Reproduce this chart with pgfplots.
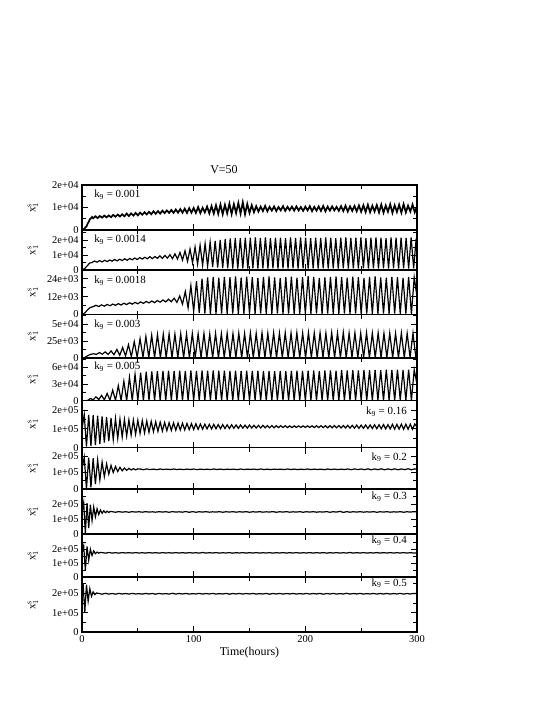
\documentclass[border=0pt]{standalone}
\usepackage{fontspec}
\setmainfont{Liberation Serif}
\usepackage{pgfplots}
\pgfplotsset{compat=1.18}

\pgfplotsset{
  panel/.style={
    scale only axis, width=335bp, xmin=0, xmax=300, ymin=0,
    scaled y ticks=false, scaled x ticks=false,
    xtick={0,100,200,300}, minor xtick={50,150,250}, xticklabels={},
    tick align=inside, major tick length=6bp, minor tick length=4bp,
    axis line style={line width=1.1bp},
    every tick/.style={black, line width=0.9bp},
    tick label style={font=\fontsize{10.5}{11}\selectfont},
    ylabel={\(\mathrm{x}_{1}^{\mathrm{s}}\)},
    every axis y label/.style={at={(axis description cs:0,0.5)}, xshift=-49bp,
      rotate=90, anchor=center, font=\fontsize{11}{12}\selectfont},
    anchor=south west,
  },
}
\tikzset{
  kl/.style={font=\fontsize{11}{12}\selectfont, inner sep=1pt},
  sig/.style={black, line width=1.2bp},
}

\begin{document}
\begin{tikzpicture}
\useasboundingbox (0,0) rectangle (545bp,-705bp);
\node[font=\fontsize{12}{14}\selectfont] at (224bp,-170bp) {V=50};

% k9 = 0.001
\begin{axis}[panel, at={(82bp,-230bp)}, height=45bp, ymax=20000,
  ytick={0,10000,20000}, yticklabels={0,1e+04,2e+04}, minor ytick={5000,15000}]
\addplot[sig, line width=1.7bp] coordinates {
(0,0)(1,400)(2,300)(3,1200)(4,1500)(5,2800)(6,3600)(7,4800)(8,5200)(9,5800)(10,5200)
(12,6100)(14,5300)(16,6200)(18,5500)(20,6400)(22,5600)(24,6500)(26,5700)(28,6700)(30,5900)
(32,6900)(34,6000)(36,7000)(38,6100)(40,7300)(42,6200)(44,7400)(46,6400)(48,7600)(50,6500)
(52,7700)(54,6800)(56,7900)(58,6900)(60,8100)(62,7000)(64,8300)(66,7200)(68,8400)(70,7300)
(72,8600)(74,7500)(76,8700)(78,7600)(80,8900)(82,7600)(84,9100)(86,7700)(88,9300)(90,7700)
(92,9500)(94,7600)(96,9700)(98,7700)(100,9800)(102,7600)(104,10200)(106,7500)(108,9900)(110,7800)
(112,10400)(114,7400)(116,10600)(118,7300)(120,11000)(122,7200)(124,11300)(126,7000)(128,11200)(130,7400)
(132,11700)(134,7100)(136,11500)(138,7500)(140,12000)(142,7300)(144,12300)(146,7000)(148,11600)(150,7600)
(152,11000)(154,7900)(156,10600)(158,8200)(160,10400)(162,8400)(164,10700)(166,8300)(168,10300)(170,8600)
(172,10500)(174,8400)(176,10200)(178,8700)(180,10600)(182,8500)(184,10300)(186,8800)(188,10400)(190,8600)
(192,10500)(194,8700)(196,10200)(198,8500)(200,10400)(202,8700)(204,10600)(206,8400)(208,10300)(210,8600)
(212,10500)(214,8500)(216,10700)(218,8300)(220,10400)(222,8600)(224,10500)(226,8700)(228,10300)(230,8500)
(232,10600)(234,8400)(236,10800)(238,8200)(240,10500)(242,8500)(244,10700)(246,8300)(248,10900)(250,8100)
(252,11000)(254,8000)(256,11200)(258,7900)(260,10800)(262,8200)(264,11100)(266,7800)(268,11300)(270,7700)
(272,10900)(274,8100)(276,11400)(278,7600)(280,11000)(282,8000)(284,11200)(286,7700)(288,11500)(290,7800)
(292,10800)(294,8200)(296,11300)(298,7900)(300,10600)
};
\node[kl, anchor=west] at (rel axis cs:0.033,0.78) {k\textsubscript{9} = 0.001};
\end{axis}

% k9 = 0.0014
\begin{axis}[panel, at={(82bp,-270bp)}, height=40bp, ymax=26700,
  ytick={0,10000,20000}, yticklabels={0,1e+04,2e+04}, minor ytick={5000,15000,25000}]
\addplot[sig] coordinates {
(0,0)(2.25,900)(4.5,2600)(6.75,4600)(9,5000)(11.25,6000)(13.5,5200)(15.75,6300)(18,5400)(20.25,6500)
(22.5,5600)(24.75,6700)(27,5900)(29.25,7000)(31.5,6100)(33.75,7200)(36,6300)(38.25,7500)(40.5,6500)(42.75,7700)
(45,6800)(47.25,8000)(49.5,7000)(51.75,8300)(54,7300)(56.25,8500)(58.5,7500)(60.75,8900)(63,7600)(65.25,9000)
(67.5,7800)(69.75,9400)(72,7800)(74.25,9700)(76.5,7900)(78.75,10200)(81,7600)(83.25,10800)(85.5,7300)(87.75,11700)
(90,6600)(92.25,12800)(94.5,5800)(96.75,14000)(99,4800)(101.25,15300)(103.5,3900)(105.75,16500)(108,3100)(110.25,17600)
(112.5,2500)(114.75,18600)(117,2000)(119.25,19400)(121.5,1600)(123.75,20100)(126,1300)(128.25,20700)(130.5,1100)(132.75,21100)
(135,1000)(137.25,21400)(139.5,1000)(141.75,21300)(144,1100)(146.25,21600)(148.5,1000)(150.75,21500)(153,1100)(155.25,21700)
(157.5,1000)(159.75,21400)(162,1200)(164.25,21800)(166.5,1000)(168.75,21300)(171,1100)(173.25,21600)(175.5,900)(177.75,21500)
(180,1100)(182.25,21200)(184.5,1000)(186.75,21700)(189,1100)(191.25,21400)(193.5,1000)(195.75,21800)(198,1200)(200.25,21500)
(202.5,1000)(204.75,21300)(207,1100)(209.25,21600)(211.5,1000)(213.75,21400)(216,1100)(218.25,21700)(220.5,900)(222.75,21500)
(225,1100)(227.25,21200)(229.5,1000)(231.75,21600)(234,1100)(236.25,21800)(238.5,1000)(240.75,21400)(243,1100)(245.25,21500)
(247.5,1000)(249.75,21700)(252,1200)(254.25,21300)(256.5,1000)(258.75,21600)(261,1100)(263.25,21800)(265.5,1000)(267.75,21500)
(270,1100)(272.25,21300)(274.5,1000)(276.75,21700)(279,1100)(281.25,21500)(283.5,900)(285.75,21600)(288,1100)(290.25,21400)
(292.5,1000)(294.75,21700)(297,1100)(299.25,21000)(300,15000)
};
\node[kl, anchor=west] at (rel axis cs:0.033,0.75) {k\textsubscript{9} = 0.0014};
\end{axis}

% k9 = 0.0018
\begin{axis}[panel, at={(82bp,-314.5bp)}, height=44.5bp, ymax=30000,
  ytick={0,12000,24000}, yticklabels={0,12e+03,24e+03}, minor ytick={6000,18000}]
\addplot[sig] coordinates {
(0,0)(2.5,1000)(5,3200)(7.5,4800)(10,5300)(12.5,6200)(15,5400)(17.5,6500)(20,5600)(22.5,6800)
(25,5900)(27.5,7000)(30,6200)(32.5,7300)(35,6400)(37.5,7600)(40,6700)(42.5,7900)(45,7000)(47.5,8200)
(50,7200)(52.5,8500)(55,7500)(57.5,8800)(60,7800)(62.5,9100)(65,8000)(67.5,9400)(70,8300)(72.5,9800)
(75,8500)(77.5,10300)(80,8600)(82.5,11000)(85,8200)(87.5,12500)(90,7000)(92.5,15500)(95,4500)(97.5,19500)
(100,2200)(102.5,22500)(105,1000)(107.5,24200)(110,600)(112.5,25000)(115,500)(117.5,25300)(120,500)(122.5,24800)
(125,600)(127.5,25400)(130,500)(132.5,25100)(135,600)(137.5,25600)(140,500)(142.5,24900)(145,500)(147.5,25500)
(150,600)(152.5,25200)(155,500)(157.5,24700)(160,600)(162.5,25300)(165,500)(167.5,25700)(170,500)(172.5,25000)
(175,600)(177.5,24600)(180,500)(182.5,25200)(185,600)(187.5,25500)(190,500)(192.5,24800)(195,500)(197.5,25100)
(200,600)(202.5,25800)(205,500)(207.5,25300)(210,600)(212.5,24700)(215,500)(217.5,25000)(220,600)(222.5,25400)
(225,500)(227.5,25600)(230,500)(232.5,25200)(235,600)(237.5,24900)(240,500)(242.5,25500)(245,600)(247.5,25100)
(250,500)(252.5,24600)(255,600)(257.5,25300)(260,500)(262.5,25700)(265,500)(267.5,25000)(270,600)(272.5,24800)
(275,500)(277.5,25400)(280,600)(282.5,25100)(285,500)(287.5,24700)(290,600)(292.5,25300)(295,500)(297.5,25000)
(300,12000)
};
\node[kl, anchor=west] at (rel axis cs:0.033,0.76) {k\textsubscript{9} = 0.0018};
\end{axis}

% k9 = 0.003
\begin{axis}[panel, at={(82bp,-358bp)}, height=43.5bp, ymax=64000,
  ytick={0,25000,50000}, yticklabels={0,25e+03,5e+04}, minor ytick={12500,37500,62500}]
\addplot[sig] coordinates {
(0,0)(2.6,800)(5.2,3500)(7.8,5500)(10.4,6200)(13,5400)(15.6,8000)(18.2,5600)(20.8,9000)(23.4,5200)
(26,10500)(28.6,4800)(31.2,12500)(33.8,4000)(36.4,15500)(39,3000)(41.6,19500)(44.2,2000)(46.8,24000)(49.4,1200)
(52,28500)(54.6,800)(57.2,31500)(59.8,600)(62.4,33500)(65,500)(67.6,34500)(70.2,500)(72.8,35000)(75.4,500)
(78,35500)(80.6,500)(83.2,35200)(85.8,600)(88.4,35800)(91,500)(93.6,35400)(96.2,500)(98.8,36000)(101.4,600)
(104,35500)(106.6,500)(109.2,35900)(111.8,600)(114.4,35300)(117,500)(119.6,36200)(122.2,500)(124.8,35700)(127.4,600)
(130,36400)(132.6,500)(135.2,35800)(137.8,600)(140.4,36600)(143,500)(145.6,36100)(148.2,500)(150.8,36800)(153.4,600)
(156,36300)(158.6,500)(161.2,36900)(163.8,600)(166.4,36400)(169,500)(171.6,37000)(174.2,500)(176.8,36500)(179.4,600)
(182,37200)(184.6,500)(187.2,36600)(189.8,600)(192.4,37100)(195,500)(197.6,36700)(200.2,500)(202.8,37300)(205.4,600)
(208,36800)(210.6,500)(213.2,37000)(215.8,600)(218.4,36500)(221,500)(223.6,37200)(226.2,500)(228.8,36700)(231.4,600)
(234,37400)(236.6,500)(239.2,36600)(241.8,600)(244.4,37100)(247,500)(249.6,36500)(252.2,600)(254.8,37000)(257.4,500)
(260,36400)(262.6,600)(265.2,36900)(267.8,500)(270.4,36300)(273,600)(275.6,36800)(278.2,500)(280.8,36200)(283.4,600)
(286,36700)(288.6,500)(291.2,36100)(293.8,600)(296.4,36500)(299,500)(300,3000)
};
\node[kl, anchor=west] at (rel axis cs:0.033,0.76) {k\textsubscript{9} = 0.003};
\end{axis}

% k9 = 0.005
\begin{axis}[panel, at={(82bp,-400.7bp)}, height=42.7bp, ymax=76700,
  ytick={0,30000,60000}, yticklabels={0,3e+04,6e+04}, minor ytick={15000,45000,75000}]
\addplot[sig] coordinates {
(0,0)(2.5,0)(5,300)(7.5,4000)(10,1500)(12.5,7000)(15,2000)(17.5,9500)(20,1800)(22.5,13000)
(25,1200)(27.5,19000)(30,800)(32.5,27000)(35,600)(37.5,35000)(40,500)(42.5,42000)(45,500)(47.5,47500)
(50,500)(52.5,50500)(55,500)(57.5,52000)(60,600)(62.5,52800)(65,500)(67.5,53200)(70,500)(72.5,53500)
(75,600)(77.5,53800)(80,500)(82.5,53400)(85,600)(87.5,54000)(90,500)(92.5,53600)(95,600)(97.5,54200)
(100,500)(102.5,53700)(105,600)(107.5,54300)(110,500)(112.5,53900)(115,600)(117.5,54400)(120,500)(122.5,53800)
(125,600)(127.5,54100)(130,500)(132.5,53600)(135,600)(137.5,54000)(140,500)(142.5,53500)(145,600)(147.5,53900)
(150,500)(152.5,53400)(155,600)(157.5,53800)(160,500)(162.5,53300)(165,600)(167.5,53700)(170,500)(172.5,53200)
(175,600)(177.5,53600)(180,500)(182.5,53100)(185,600)(187.5,53500)(190,500)(192.5,53900)(195,600)(197.5,53400)
(200,500)(202.5,53800)(205,600)(207.5,54200)(210,500)(212.5,53700)(215,600)(217.5,54300)(220,500)(222.5,54600)
(225,600)(227.5,54100)(230,500)(232.5,54800)(235,600)(237.5,54400)(240,500)(242.5,55000)(245,600)(247.5,54600)
(250,500)(252.5,55200)(255,600)(257.5,54800)(260,500)(262.5,55400)(265,600)(267.5,55000)(270,500)(272.5,55600)
(275,600)(277.5,55100)(280,500)(282.5,55700)(285,600)(287.5,55300)(290,500)(292.5,55800)(295,600)(297.5,55400)
(300,30000)
};
\node[kl, anchor=west] at (rel axis cs:0.033,0.8) {k\textsubscript{9} = 0.005};
\end{axis}

% k9 = 0.16
\begin{axis}[panel, at={(82bp,-447.7bp)}, height=47bp, ymax=250000,
  ytick={0,100000,200000}, yticklabels={0,1e+05,2e+05}, minor ytick={50000,150000}]
\addplot[sig] coordinates {
(0,100000)(2,176000)(4,6000)(6,175000)(8,9000)(10,173000)(12,14000)(14,170000)(16,20000)(18,166000)
(20,27000)(22,162000)(24,35000)(26,158000)(28,43000)(30,155000)(32,50000)(34,152000)(36,56000)(38,150000)
(40,62000)(42,148000)(44,67000)(46,147000)(48,72000)(50,146000)(52,76000)(54,144000)(56,79000)(58,142000)
(60,82000)(62,140000)(64,85000)(66,138000)(68,87000)(70,136000)(72,89000)(74,134000)(76,91000)(78,133000)
(80,92000)(82,132000)(84,93000)(86,131000)(88,94000)(90,130000)(92,95000)(94,129000)(96,96000)(98,128000)
(100,97000)(102,127000)(104,98000)(106,126000)(108,99000)(110,125000)(112,100000)(114,124000)(116,100000)(118,124000)
(120,101000)(122,123000)(124,101000)(126,123000)(128,102000)(130,122000)(132,102000)(134,122000)(136,103000)(138,121000)
(140,103000)(142,121000)(144,104000)(146,120000)(148,104000)(150,120000)(152,105000)(154,119000)(156,105000)(158,119000)
(160,105000)(162,119000)(164,106000)(166,118000)(168,106000)(170,118000)(172,106000)(174,117000)(176,107000)(178,117000)
(180,107000)(182,117000)(184,107000)(186,116000)(188,107000)(190,116000)(192,108000)(194,116000)(196,108000)(198,116000)
(200,108000)(202,116000)(204,108000)(206,116000)(208,107000)(210,117000)(212,107000)(214,117000)(216,107000)(218,117000)
(220,106000)(222,117000)(224,106000)(226,118000)(228,106000)(230,118000)(232,105000)(234,118000)(236,105000)(238,119000)
(240,104000)(242,119000)(244,104000)(246,120000)(248,103000)(250,120000)(252,103000)(254,121000)(256,102000)(258,121000)
(260,102000)(262,122000)(264,101000)(266,122000)(268,101000)(270,123000)(272,100000)(274,123000)(276,100000)(278,124000)
(280,99000)(282,124000)(284,99000)(286,125000)(288,98000)(290,125000)(292,98000)(294,125000)(296,98000)(298,126000)
(300,110000)
};
\node[kl, anchor=east] at (rel axis cs:0.973,0.77) {k\textsubscript{9} = 0.16};
\end{axis}

% k9 = 0.2
\begin{axis}[panel, at={(82bp,-489bp)}, height=41.3bp, ymax=250000,
  ytick={0,100000,200000}, yticklabels={0,1e+05,2e+05}, minor ytick={50000,150000}]
\addplot[sig] coordinates {
(0,120000)(2,192000)(4,2000)(6,190000)(8,10000)(10,186000)(12,30000)(14,175000)(16,55000)(18,163000)
(20,75000)(22,152000)(24,90000)(26,143000)(28,100000)(30,136000)(32,106000)(34,131000)(36,110000)(38,127000)
(40,113000)(42,125000)(44,115000)(46,123000)(48,116000)(50,122000)
(52,121000)(55,117000)(58,121500)(61,117500)(64,120500)(67,117000)(70,121000)(73,118000)(76,120500)(79,117500)
(82,121000)(85,118000)(88,120000)(91,117500)(94,120500)(97,118000)(100,121000)(103,117000)(106,120500)(109,118000)
(112,120000)(115,117500)(118,121000)(121,118000)(124,120500)(127,117500)(130,120000)(133,118500)(136,120500)(139,117000)
(142,121000)(145,118000)(148,120000)(151,118500)(154,120500)(157,117500)(160,121000)(163,118000)(166,120000)(169,117500)
(172,120500)(175,118500)(178,120000)(181,117500)(184,121000)(187,118000)(190,120500)(193,117500)(196,120000)(199,118000)
(202,121000)(205,117500)(208,120500)(211,118000)(214,120000)(217,117000)(220,121000)(223,118000)(226,120500)(229,117500)
(232,120500)(235,118000)(238,121000)(241,117000)(244,121500)(247,117500)(250,121000)(253,117000)(256,122000)(259,116500)
(262,121500)(265,117000)(268,122000)(271,116500)(274,121500)(277,117000)(280,122000)(283,116500)(286,121500)(289,117000)
(292,122500)(295,116500)(298,122000)(300,119000)
};
\node[kl, anchor=east] at (rel axis cs:0.973,0.77) {k\textsubscript{9} = 0.2};
\end{axis}

% k9 = 0.3
\begin{axis}[panel, at={(82bp,-534bp)}, height=45bp, ymax=300000,
  ytick={0,100000,200000}, yticklabels={0,1e+05,2e+05}, minor ytick={50000,150000,250000}]
\addplot[sig] coordinates {
(0,150000)(1.5,210000)(3,5000)(4.5,205000)(6,40000)(7.5,195000)(9,90000)(10.5,180000)(12,115000)(13.5,168000)
(15,130000)(16.5,160000)(18,138000)(19.5,155000)(21,142000)(22.5,152000)(24,144000)(25.5,150000)
(27,149000)(30,145000)(33,149500)(36,145500)(39,148500)(42,145000)(45,149000)(48,146000)(51,148500)(54,145500)
(57,149000)(60,146000)(63,148000)(66,145500)(69,149000)(72,146000)(75,148500)(78,145000)(81,149500)(84,146000)
(87,148000)(90,145500)(93,150000)(96,144500)(99,149500)(102,145000)(105,148500)(108,146000)(111,149000)(114,145500)
(117,148000)(120,146000)(123,149000)(126,145000)(129,148500)(132,146000)(135,149000)(138,145500)(141,148500)(144,146000)
(147,149000)(150,145000)(153,148500)(156,146000)(159,149000)(162,145500)(165,148000)(168,146000)(171,149500)(174,145000)
(177,148500)(180,146000)(183,149000)(186,145500)(189,148000)(192,146000)(195,149000)(198,145000)(201,148500)(204,146000)
(207,149000)(210,145500)(213,148000)(216,146000)(219,149500)(222,145000)(225,148500)(228,146000)(231,151000)(234,144000)
(237,149000)(240,145500)(243,148500)(246,146000)(249,149000)(252,145500)(255,148000)(258,146000)(261,149000)(264,145000)
(267,148500)(270,146000)(273,149000)(276,145500)(279,148000)(282,146000)(285,149000)(288,145000)(291,148500)(294,146000)
(297,149000)(300,147000)
};
\node[kl, anchor=east] at (rel axis cs:0.973,0.83) {k\textsubscript{9} = 0.3};
\end{axis}

% k9 = 0.4
\begin{axis}[panel, at={(82bp,-577bp)}, height=43bp, ymax=310000,
  ytick={0,100000,200000}, yticklabels={0,1e+05,2e+05}, minor ytick={50000,150000,250000}]
\addplot[sig] coordinates {
(0,170000)(1.5,225000)(3,50000)(4.5,220000)(6,120000)(7.5,200000)(9,155000)(10.5,188000)(12,168000)(13.5,180000)
(15,172000)(16.5,177000)
(18,176000)(21,172000)(24,176500)(27,172500)(30,175500)(33,172000)(36,176000)(39,173000)(42,175500)(45,172500)
(48,176000)(51,173000)(54,175000)(57,172500)(60,176000)(63,173000)(66,175500)(69,172000)(72,176000)(75,173000)
(78,175000)(81,172500)(84,176000)(87,173000)(90,175500)(93,172500)(96,176000)(99,173000)(102,175000)(105,172500)
(108,176500)(111,172500)(114,175500)(117,173000)(120,176000)(123,172500)(126,175000)(129,173000)(132,176000)(135,172000)
(138,175500)(141,173000)(144,176000)(147,172500)(150,175500)(153,173000)(156,176000)(159,172500)(162,175000)(165,173000)
(168,176000)(171,172000)(174,175500)(177,173000)(180,176000)(183,172500)(186,175500)(189,173000)(192,176000)(195,172500)
(198,175000)(201,173000)(204,176000)(207,172500)(210,175500)(213,173000)(216,176000)(219,172000)(222,175500)(225,173000)
(228,176000)(231,172500)(234,175000)(237,173000)(240,176500)(243,172500)(246,175500)(249,173000)(252,176000)(255,172500)
(258,175000)(261,173000)(264,176000)(267,172500)(270,175500)(273,173000)(276,176000)(279,172500)(282,175500)(285,173000)
(288,176000)(291,172500)(294,175500)(297,173000)(300,174000)
};
\node[kl, anchor=east] at (rel axis cs:0.973,0.84) {k\textsubscript{9} = 0.4};
\end{axis}

% k9 = 0.5
\begin{axis}[panel, at={(82bp,-632bp)}, height=55bp, ymax=285000,
  ytick={0,100000,200000}, yticklabels={0,1e+05,2e+05}, minor ytick={50000,150000,250000},
  xticklabels={0,100,200,300}, xlabel={Time(hours)},
  every axis x label/.style={at={(axis description cs:0.5,0)}, yshift=-21bp,
    anchor=center, font=\fontsize{12}{14}\selectfont}]
\addplot[sig] coordinates {
(0,200000)(1,250000)(2.5,100000)(4,245000)(5.5,160000)(7,225000)(8.5,185000)(10,208000)(11.5,194000)(13,202000)
(15,200000)(18,196000)(21,200500)(24,196500)(27,199500)(30,196000)(33,200000)(36,197000)(39,199500)(42,196500)
(45,200000)(48,197000)(51,199000)(54,196500)(57,200000)(60,197000)(63,199500)(66,196000)(69,200000)(72,197000)
(75,199000)(78,196500)(81,200500)(84,196500)(87,199500)(90,197000)(93,200000)(96,196500)(99,199000)(102,197000)
(105,200000)(108,196500)(111,199500)(114,197000)(117,200000)(120,196500)(123,199000)(126,197000)(129,200000)(132,196000)
(135,199500)(138,197000)(141,200000)(144,196500)(147,199500)(150,197000)(153,200000)(156,196500)(159,199000)(162,197000)
(165,200000)(168,196000)(171,199500)(174,197000)(177,200000)(180,196500)(183,199500)(186,197000)(189,200000)(192,196500)
(195,199000)(198,197000)(201,200000)(204,196500)(207,199500)(210,197000)(213,200000)(216,196000)(219,199500)(222,197000)
(225,200000)(228,196500)(231,199000)(234,197000)(237,200500)(240,196500)(243,199500)(246,197000)(249,200000)(252,196500)
(255,199000)(258,197000)(261,200000)(264,196500)(267,199500)(270,197000)(273,200000)(276,196500)(279,199500)(282,197000)
(285,200000)(288,196500)(291,199500)(294,197000)(297,200000)(300,199000)
};
\node[kl, anchor=east] at (rel axis cs:0.973,0.885) {k\textsubscript{9} = 0.5};
\end{axis}
\end{tikzpicture}
\end{document}
